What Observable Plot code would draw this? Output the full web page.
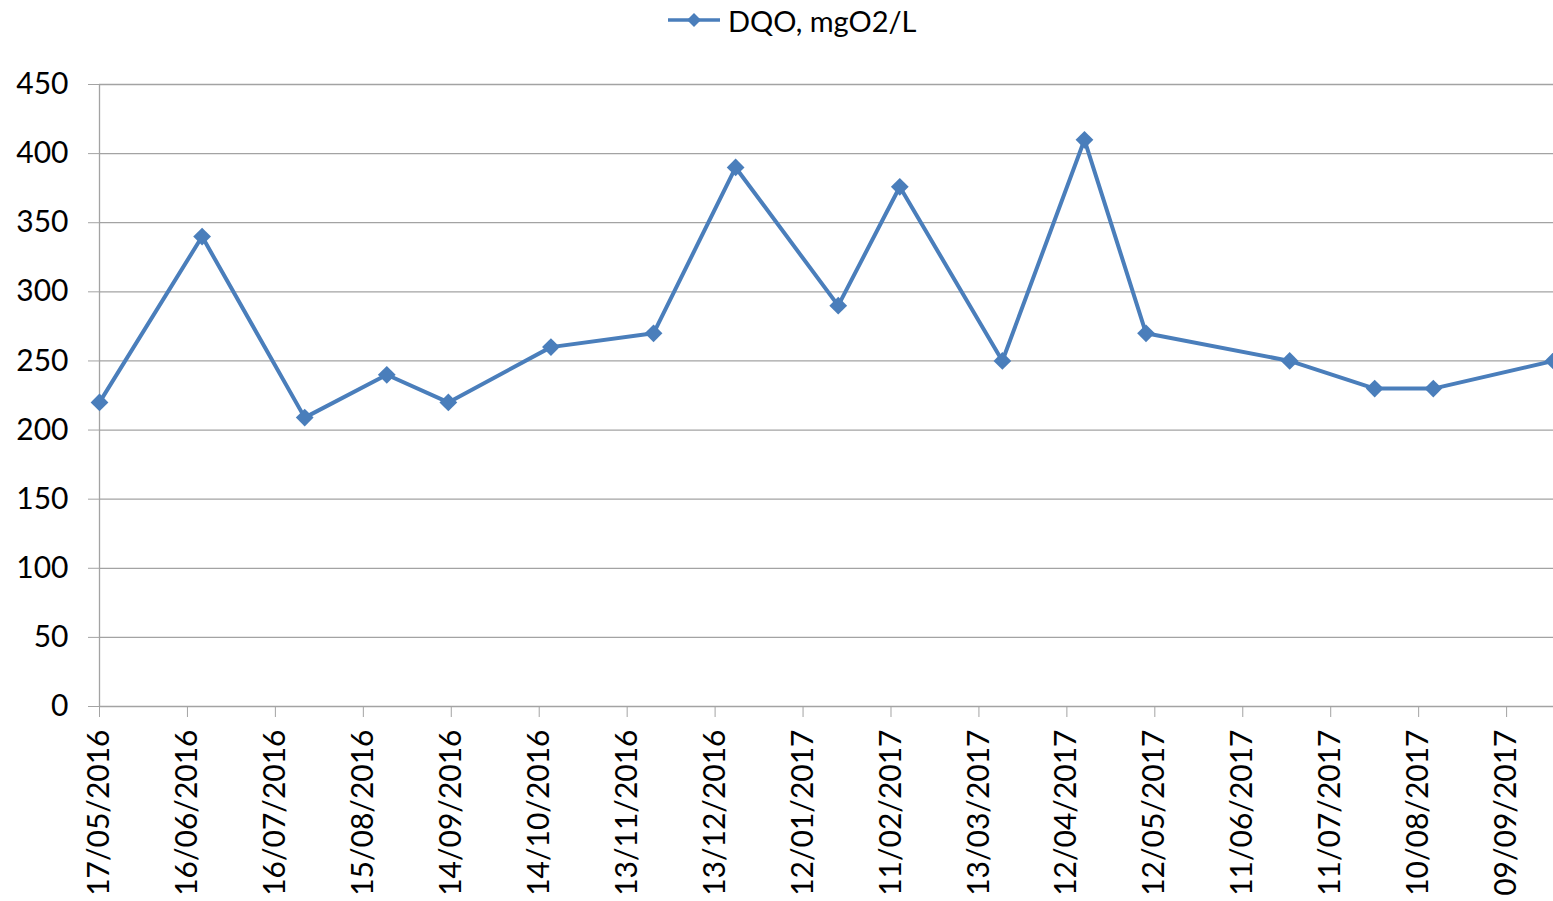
<!DOCTYPE html>
<html>
<head>
<meta charset="utf-8">
<script src="https://cdn.jsdelivr.net/npm/d3@7"></script>
<script src="https://cdn.jsdelivr.net/npm/@observablehq/plot@0.6"></script>
<style>
  html, body { margin: 0; padding: 0; background: #fff; overflow: hidden; }
  body { width: 1553px; height: 901px; position: relative; font-family: Lato, "Open Sans", sans-serif; }
  #legend { position: absolute; left: 666px; top: 0; height: 40px; display: flex; align-items: center; font-size: 29px; color: #000; }
  #legend svg { margin-right: 6px; }
  #chart { position: absolute; left: 0; top: 42px; }
</style>
</head>
<body>
<div id="legend">
  <svg width="56" height="20"><line x1="2" y1="10" x2="54" y2="10" stroke="#4a7ebb" stroke-width="3.5"/><path d="M28,3 L35,10 L28,17 L21,10 Z" fill="#4a7ebb"/></svg>
  <span id="legendText"></span>
</div>
<div id="chart"></div>
<script>
const seriesName = "DQO, mgO2/L";
const dates = [
  "2016-05-17", "2016-06-21", "2016-07-26", "2016-08-23", "2016-09-13",
  "2016-10-18", "2016-11-22", "2016-12-20", "2017-01-24", "2017-02-14",
  "2017-03-21", "2017-04-18", "2017-05-09", "2017-06-27", "2017-07-26",
  "2017-08-15", "2017-09-25"
];
const values = [220, 340, 209, 240, 220, 260, 270, 390, 290, 376, 250, 410, 270, 250, 230, 230, 250];
const xTickDates = [
  "2016-05-17", "2016-06-16", "2016-07-16", "2016-08-15", "2016-09-14",
  "2016-10-14", "2016-11-13", "2016-12-13", "2017-01-12", "2017-02-11",
  "2017-03-13", "2017-04-12", "2017-05-12", "2017-06-11", "2017-07-11",
  "2017-08-10", "2017-09-09"
];
const yTicks = [0, 50, 100, 150, 200, 250, 300, 350, 400, 450];

document.getElementById("legendText").textContent = seriesName;

const data = dates.map((d, i) => ({date: new Date(d + "T00:00:00Z"), value: values[i]}));
const xTicks = xTickDates.map(d => new Date(d + "T00:00:00Z"));
const fmt = d3.utcFormat("%d/%m/%Y");
const gridColor = "#a3a3a3";

const chart = Plot.plot({
  width: 1553,
  height: 859,
  marginTop: 42,
  marginLeft: 99,
  marginRight: 0,
  marginBottom: 195,
  style: {fontFamily: "Lato, 'Open Sans', sans-serif", fontSize: "30px", color: "#000", background: "#fff", overflow: "visible"},
  x: {type: "utc", domain: [data[0].date, data[data.length - 1].date]},
  y: {domain: [0, 450]},
  marks: [
    Plot.ruleY(yTicks, {stroke: gridColor, strokeWidth: 1.3, strokeOpacity: 1}),
    Plot.ruleX([data[0].date], {y1: 0, y2: 450, stroke: gridColor, strokeWidth: 1.3}),
    Plot.axisY({ticks: yTicks, tickSize: 11, tickPadding: 20, stroke: gridColor, strokeOpacity: 1, fontSize: 30, label: null, fill: "#000"}),
    Plot.axisX({ticks: xTicks, tickFormat: fmt, tickRotate: -90, tickSize: 11, tickPadding: 12, stroke: gridColor, strokeOpacity: 1, fontSize: 30, label: null, fill: "#000"}),
    Plot.line(data, {x: "date", y: "value", stroke: "#4a7ebb", strokeWidth: 4}),
    Plot.dot(data, {x: "date", y: "value", symbol: "diamond2", r: 8, fill: "#4a7ebb", stroke: "none"})
  ]
});
document.getElementById("chart").appendChild(chart);
</script>
</body>
</html>
